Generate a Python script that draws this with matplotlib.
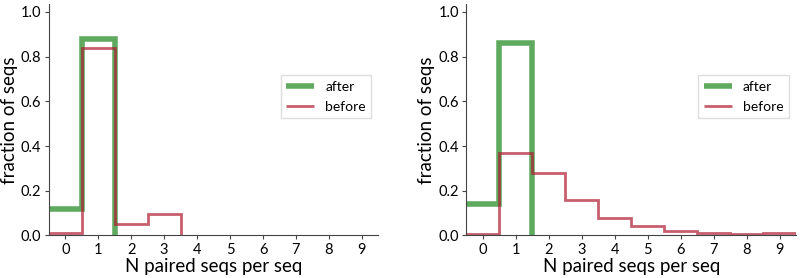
import numpy as np
import matplotlib.pyplot as plt

# Fraction of seqs per number of paired seqs
n_paired = list(range(10))
left_after = [0.12, 0.88]
left_before = [0.01, 0.84, 0.05, 0.095]
right_after = [0.14, 0.86]
right_before = [0.005, 0.37, 0.28, 0.16, 0.08, 0.043, 0.022, 0.012, 0.007, 0.01]

plt.rcParams['font.family'] = ['Lato', 'DejaVu Sans']

green = '#0a7d0a'
red = '#b01a30'


def step_xy(vals):
    # outline of a step histogram starting at the left edge, dropping to 0 at the end
    e = np.arange(len(vals) + 1) - 0.5
    xs, ys = [], []
    for i, v in enumerate(vals):
        xs += [e[i], e[i + 1]]
        ys += [v, v]
    if len(vals) < len(n_paired):
        xs.append(e[-1])
        ys.append(0)
    return xs, ys


def panel(ax, after, before):
    ax.plot(*step_xy(after), color=green, alpha=0.65, linewidth=4, label='after',
            solid_joinstyle='miter', solid_capstyle='butt')
    ax.plot(*step_xy(before), color=red, alpha=0.7, linewidth=2, label='before',
            solid_joinstyle='miter', solid_capstyle='butt')
    ax.set_xlim(-0.5, 9.5)
    ax.set_ylim(0, 1.035)
    ax.set_xticks(n_paired)
    ax.set_yticks([0.0, 0.2, 0.4, 0.6, 0.8, 1.0])
    ax.set_yticklabels(['0.0', '0.2', '0.4', '0.6', '0.8', '1.0'])
    ax.tick_params(labelsize=10.5, color='#444444', length=3, pad=2.5)
    for s in ['top', 'right']:
        ax.spines[s].set_visible(False)
    for s in ['left', 'bottom']:
        ax.spines[s].set_color('#444444')
    ax.set_xlabel('N paired seqs per seq', fontsize=13.5, labelpad=0.5)
    ax.set_ylabel('fraction of seqs', fontsize=13.5, labelpad=2)
    ax.legend(loc='center right', bbox_to_anchor=(1.0, 0.6), fontsize=10,
              handlelength=2, framealpha=1, edgecolor='#dddddd', fancybox=False,
              labelspacing=0.6)


fig = plt.figure(figsize=(8, 2.78), dpi=100)
ax1 = fig.add_axes([0.061, 0.153, 0.412, 0.832])
ax2 = fig.add_axes([0.583, 0.153, 0.412, 0.832])
panel(ax1, left_after, left_before)
panel(ax2, right_after, right_before)

fig.savefig('out.png', dpi=100)
